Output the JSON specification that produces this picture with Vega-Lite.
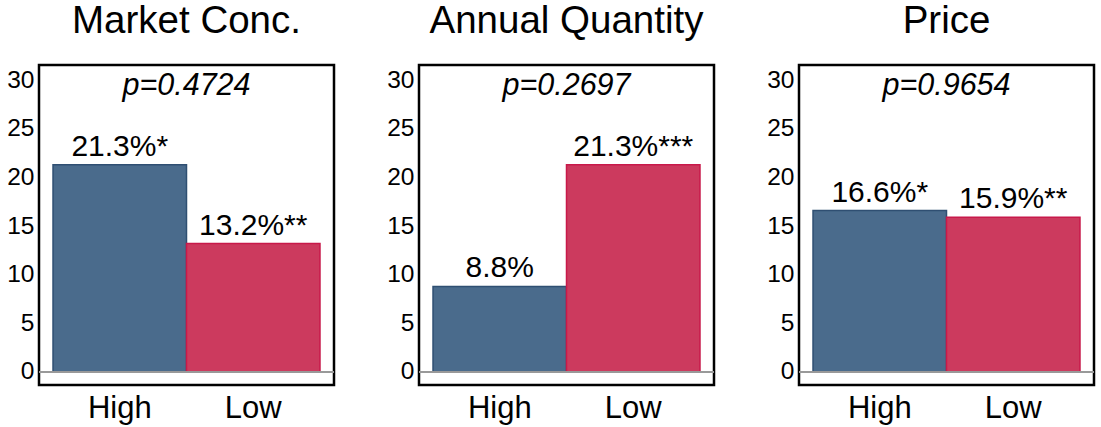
{
  "$schema": "https://vega.github.io/schema/vega-lite/v6.json",
  "padding": {"left": 5, "top": 0, "right": 0, "bottom": 0},
  "background": "white",
  "datasets": {
    "bars": [
      {"panel": "Market Conc.", "group": "High", "value": 21.3, "label": "21.3%*"},
      {"panel": "Market Conc.", "group": "Low", "value": 13.2, "label": "13.2%**"},
      {"panel": "Annual Quantity", "group": "High", "value": 8.8, "label": "8.8%"},
      {"panel": "Annual Quantity", "group": "Low", "value": 21.3, "label": "21.3%***"},
      {"panel": "Price", "group": "High", "value": 16.6, "label": "16.6%*"},
      {"panel": "Price", "group": "Low", "value": 15.9, "label": "15.9%**"}
    ],
    "pvals": [
      {"panel": "Market Conc.", "p": "p=0.4724", "pos": 28.5},
      {"panel": "Annual Quantity", "p": "p=0.2697", "pos": 28.5},
      {"panel": "Price", "p": "p=0.9654", "pos": 28.5}
    ]
  },
  "config": {
    "font": "Liberation Sans",
    "view": {"stroke": "black", "strokeWidth": 2.5},
    "concat": {"spacing": 48},
    "title": {"fontSize": 38.5, "fontWeight": "normal", "color": "black", "font": "Liberation Sans", "anchor": "middle", "baseline": "alphabetic", "offset": 24}
  },
  "hconcat": [
    {
      "title": "Market Conc.",
      "width": 295, "height": 320,
      "layer": [
        {
          "data": {"name": "bars"},
          "transform": [{"filter": "datum.panel === 'Market Conc.'"}],
          "layer": [
            {"mark": {"type": "bar", "strokeWidth": 1.5},
             "encoding": {
               "x": {"field": "group", "type": "nominal", "sort": ["High", "Low"],
                     "scale": {"paddingInner": 0, "paddingOuter": 0.105},
                     "axis": {"title": null, "labelAngle": 0, "labelFontSize": 31, "labelColor": "black", "ticks": false, "domain": false, "labelPadding": 8}},
               "y": {"field": "value", "type": "quantitative",
                     "scale": {"domain": [-1.34, 31.57], "nice": false, "zero": false},
                     "axis": {"title": null, "values": [0,5,10,15,20,25,30], "labelFontSize": 24.5, "labelColor": "black", "ticks": false, "domain": false, "grid": false, "labelPadding": 5}},
               "y2": {"datum": 0},
               "fill": {"field": "group", "type": "nominal", "scale": {"domain": ["High", "Low"], "range": ["#4a6b8c", "#cc3a5e"]}, "legend": null},
               "stroke": {"field": "group", "type": "nominal", "scale": {"domain": ["High", "Low"], "range": ["#2f4f72", "#c8194a"]}, "legend": null}
             }},
            {"mark": {"type": "text", "fontSize": 30, "baseline": "alphabetic", "dy": -9, "color": "black"},
             "encoding": {
               "x": {"field": "group", "type": "nominal", "sort": ["High", "Low"]},
               "y": {"field": "value", "type": "quantitative"},
               "text": {"field": "label"}
             }}
          ]
        },
        {"data": {"name": "pvals"},
         "transform": [{"filter": "datum.panel === 'Market Conc.'"}],
         "mark": {"type": "text", "fontSize": 30.5, "fontStyle": "italic", "baseline": "alphabetic", "color": "black"},
         "encoding": {"y": {"field": "pos", "type": "quantitative"}, "text": {"field": "p"}}},
        {"data": {"values": [{"z": 0}]},
         "mark": {"type": "rule", "color": "#999999", "strokeWidth": 2},
         "encoding": {"y": {"field": "z", "type": "quantitative"}}}
      ]
    },
    {
      "title": "Annual Quantity",
      "width": 295, "height": 320,
      "layer": [
        {
          "data": {"name": "bars"},
          "transform": [{"filter": "datum.panel === 'Annual Quantity'"}],
          "layer": [
            {"mark": {"type": "bar", "strokeWidth": 1.5},
             "encoding": {
               "x": {"field": "group", "type": "nominal", "sort": ["High", "Low"],
                     "scale": {"paddingInner": 0, "paddingOuter": 0.105},
                     "axis": {"title": null, "labelAngle": 0, "labelFontSize": 31, "labelColor": "black", "ticks": false, "domain": false, "labelPadding": 8}},
               "y": {"field": "value", "type": "quantitative",
                     "scale": {"domain": [-1.34, 31.57], "nice": false, "zero": false},
                     "axis": {"title": null, "values": [0,5,10,15,20,25,30], "labelFontSize": 24.5, "labelColor": "black", "ticks": false, "domain": false, "grid": false, "labelPadding": 5}},
               "y2": {"datum": 0},
               "fill": {"field": "group", "type": "nominal", "scale": {"domain": ["High", "Low"], "range": ["#4a6b8c", "#cc3a5e"]}, "legend": null},
               "stroke": {"field": "group", "type": "nominal", "scale": {"domain": ["High", "Low"], "range": ["#2f4f72", "#c8194a"]}, "legend": null}
             }},
            {"mark": {"type": "text", "fontSize": 30, "baseline": "alphabetic", "dy": -9, "color": "black"},
             "encoding": {
               "x": {"field": "group", "type": "nominal", "sort": ["High", "Low"]},
               "y": {"field": "value", "type": "quantitative"},
               "text": {"field": "label"}
             }}
          ]
        },
        {"data": {"name": "pvals"},
         "transform": [{"filter": "datum.panel === 'Annual Quantity'"}],
         "mark": {"type": "text", "fontSize": 30.5, "fontStyle": "italic", "baseline": "alphabetic", "color": "black"},
         "encoding": {"y": {"field": "pos", "type": "quantitative"}, "text": {"field": "p"}}},
        {"data": {"values": [{"z": 0}]},
         "mark": {"type": "rule", "color": "#999999", "strokeWidth": 2},
         "encoding": {"y": {"field": "z", "type": "quantitative"}}}
      ]
    },
    {
      "title": "Price",
      "width": 295, "height": 320,
      "layer": [
        {
          "data": {"name": "bars"},
          "transform": [{"filter": "datum.panel === 'Price'"}],
          "layer": [
            {"mark": {"type": "bar", "strokeWidth": 1.5},
             "encoding": {
               "x": {"field": "group", "type": "nominal", "sort": ["High", "Low"],
                     "scale": {"paddingInner": 0, "paddingOuter": 0.105},
                     "axis": {"title": null, "labelAngle": 0, "labelFontSize": 31, "labelColor": "black", "ticks": false, "domain": false, "labelPadding": 8}},
               "y": {"field": "value", "type": "quantitative",
                     "scale": {"domain": [-1.34, 31.57], "nice": false, "zero": false},
                     "axis": {"title": null, "values": [0,5,10,15,20,25,30], "labelFontSize": 24.5, "labelColor": "black", "ticks": false, "domain": false, "grid": false, "labelPadding": 5}},
               "y2": {"datum": 0},
               "fill": {"field": "group", "type": "nominal", "scale": {"domain": ["High", "Low"], "range": ["#4a6b8c", "#cc3a5e"]}, "legend": null},
               "stroke": {"field": "group", "type": "nominal", "scale": {"domain": ["High", "Low"], "range": ["#2f4f72", "#c8194a"]}, "legend": null}
             }},
            {"mark": {"type": "text", "fontSize": 30, "baseline": "alphabetic", "dy": -9, "color": "black"},
             "encoding": {
               "x": {"field": "group", "type": "nominal", "sort": ["High", "Low"]},
               "y": {"field": "value", "type": "quantitative"},
               "text": {"field": "label"}
             }}
          ]
        },
        {"data": {"name": "pvals"},
         "transform": [{"filter": "datum.panel === 'Price'"}],
         "mark": {"type": "text", "fontSize": 30.5, "fontStyle": "italic", "baseline": "alphabetic", "color": "black"},
         "encoding": {"y": {"field": "pos", "type": "quantitative"}, "text": {"field": "p"}}},
        {"data": {"values": [{"z": 0}]},
         "mark": {"type": "rule", "color": "#999999", "strokeWidth": 2},
         "encoding": {"y": {"field": "z", "type": "quantitative"}}}
      ]
    }
  ]
}
